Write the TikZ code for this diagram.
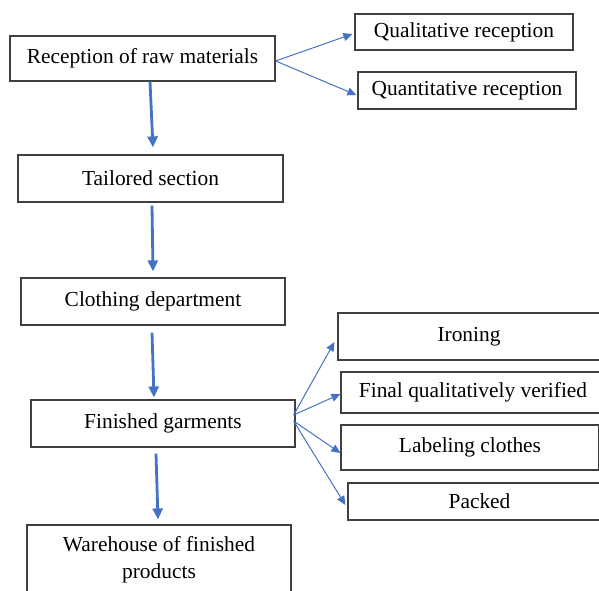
\documentclass[tikz,border=0pt]{standalone}
\usepackage{fontspec}
\setmainfont{Liberation Serif}
\usepackage{xcolor}
\usetikzlibrary{arrows.meta}
\definecolor{arrowblue}{HTML}{4472C4}

\begin{document}
\begin{tikzpicture}[x=0.5pt, y=-0.5pt,
    block/.style={rectangle, draw=black!75, line width=0.6pt, align=center, inner sep=0pt, font=\fontsize{10.7}{13.5}\selectfont},
    line/.style={draw, -{Triangle[length=5.5pt,width=5pt]}, line width=1.4pt, arrowblue},
    branch/.style={draw, -{Triangle[length=4.5pt,width=4pt]}, line width=0.5pt, arrowblue}]

    \useasboundingbox (0,0) rectangle (599,590);

    % Nodes
    \node [block, minimum width=132.5pt, minimum height=22.5pt] (rec) at (142.5,58.5) {Reception of raw materials};
    \node [block, minimum width=109pt, minimum height=18pt] (qual) at (464,32) {Qualitative reception};
    \node [block, minimum width=109pt, minimum height=18.5pt] (quant) at (467,90.5) {Quantitative reception};
    \node [block, minimum width=132.5pt, minimum height=23.5pt] (tail) at (150.5,178.5) {Tailored section};
    \node [block, minimum width=132pt, minimum height=23.5pt] (cloth) at (153,301.5) {Clothing department};
    \node [block, minimum width=132pt, minimum height=23.5pt] (fin) at (163,423.5) {Finished garments};
    \node [block, minimum width=132pt, minimum height=40pt] (ware) at (159,565) {};
    \node [font=\fontsize{10.7}{13.5}\selectfont, align=center, inner sep=0pt] (waretext) at (159,559.5) {Warehouse of finished\\products};
    \node [block, minimum width=131pt, minimum height=23.5pt] (iron) at (469,336.5) {Ironing};
    \node [block, minimum width=132pt, minimum height=20.5pt] (final) at (473,392.5) {Final qualitatively verified};
    \node [block, minimum width=129pt, minimum height=22.5pt] (label) at (470,447.5) {Labeling clothes};
    \node [block, minimum width=131.5pt, minimum height=18.5pt] (packed) at (479.5,501.5) {Packed};

    % Main flow
    \path [line] ([xshift=3.75pt]rec.south) -- ([xshift=1.25pt, yshift=3.5pt]tail.north);
    \path [line] ([xshift=0.75pt, yshift=-1.5pt]tail.south) -- ([yshift=3pt]cloth.north);
    \path [line] ([xshift=-0.5pt, yshift=-3.5pt]cloth.south) -- ([xshift=-4.5pt, yshift=1pt]fin.north);
    \path [line] ([xshift=-3.5pt, yshift=-3pt]fin.south) -- ([xshift=-0.5pt, yshift=2.5pt]ware.north);

    % Branches
    \coordinate (rfork) at ([yshift=-1.25pt]rec.east);
    \path [branch] (rfork) -- ([xshift=-1pt, yshift=-1pt]qual.west);
    \path [branch] (rfork) -- ([xshift=-0.5pt, yshift=-2.25pt]quant.west);

    \coordinate (ffork) at ([xshift=-1pt, yshift=4.25pt]fin.east);
    \coordinate (ffork2) at ([xshift=-1pt, yshift=1.25pt]fin.east);
    \path [branch] (ffork) -- ([xshift=-1.5pt, yshift=-2.75pt]iron.west);
    \path [branch] (ffork) -- ([yshift=-0.75pt]final.west);
    \path [branch] (ffork2) -- ([yshift=-2.75pt]label.west);
    \path [branch] (ffork2) -- ([xshift=-1pt, yshift=-1.75pt]packed.west);

\end{tikzpicture}
\end{document}
